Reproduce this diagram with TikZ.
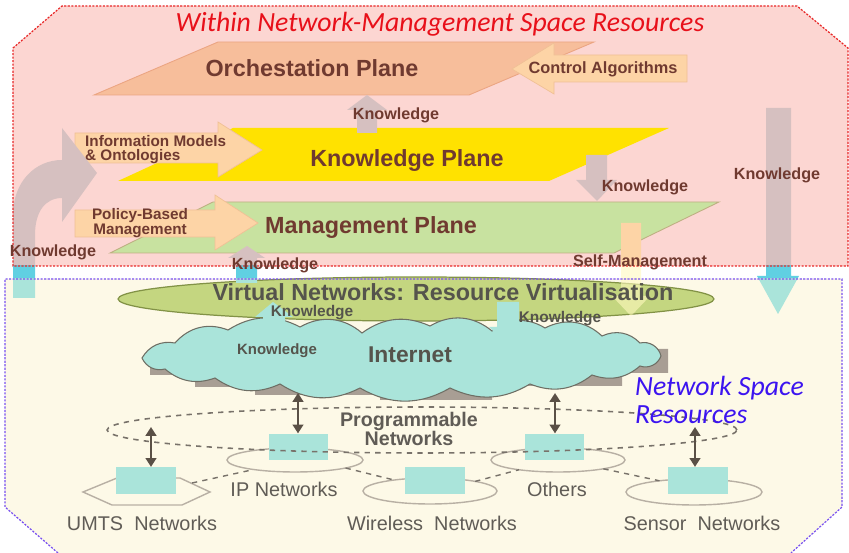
\documentclass[tikz,border=0pt]{standalone}
\usepackage{fontspec}
\setmainfont{Liberation Sans}
\newfontfamily\calibri{Carlito}
\usetikzlibrary{arrows.meta,shapes.geometric}

\definecolor{pinkzone}{RGB}{252,214,210}
\definecolor{creamzone}{RGB}{253,249,231}
\definecolor{redline}{RGB}{232,40,40}
\definecolor{blueline}{RGB}{120,80,240}
\definecolor{orchfill}{RGB}{247,190,155}
\definecolor{orchline}{RGB}{235,165,130}
\definecolor{knowfill}{RGB}{255,226,0}
\definecolor{mgmtfill}{RGB}{200,226,160}
\definecolor{mgmtline}{RGB}{190,175,130}
\definecolor{peach}{RGB}{253,212,166}
\definecolor{peachline}{RGB}{240,192,150}
\definecolor{kgrey}{RGB}{214,192,192}
\definecolor{kcyan}{RGB}{170,228,218}
\definecolor{kbright}{RGB}{96,208,226}
\definecolor{paleyellow}{RGB}{255,250,190}
\definecolor{planetext}{RGB}{112,58,48}
\definecolor{virtfill}{RGB}{196,214,128}
\definecolor{virtline}{RGB}{130,146,70}
\definecolor{cloudline}{RGB}{110,110,100}
\definecolor{shadowgrey}{RGB}{168,158,148}
\definecolor{darkgrey}{RGB}{85,84,76}
\definecolor{netgrey}{RGB}{96,92,86}
\definecolor{ringgrey}{RGB}{184,176,164}
\definecolor{linkgrey}{RGB}{120,114,106}
\definecolor{arrowgrey}{RGB}{90,80,70}
\definecolor{titlered}{RGB}{232,16,26}
\definecolor{spaceblue}{RGB}{60,20,240}

\tikzset{
  planetxt/.style={text=planetext, font=\bfseries\fontsize{13.3}{15}\selectfont},
  knowtxt/.style={text=planetext, font=\bfseries\fontsize{9.2}{10}\selectfont},
  cloudtxt/.style={text=darkgrey, font=\bfseries\fontsize{8.8}{10}\selectfont},
  nettxt/.style={text=netgrey, font=\fontsize{11.3}{13}\selectfont},
  peacharrow/.style={fill=peach, draw=peachline, line width=0.4pt},
  netbox/.style={fill=kcyan, minimum width=1.2cm, minimum height=0.53cm, inner sep=0pt},
  netring/.style={ellipse, draw=ringgrey, line width=0.8pt, inner sep=0pt, outer sep=0pt},
  netlink/.style={draw=linkgrey, dashed, line width=0.8pt},
  dblarrow/.style={{Triangle[length=5pt,width=6pt]}-{Triangle[length=5pt,width=6pt]}, draw=arrowgrey, line width=1.4pt},
  zoneline/.style={dash pattern=on 1.2pt off 0.8pt, line width=0.7pt}
}

\newcommand{\splitarrow}[1]{%
  \begin{scope}\clip (0,0) rectangle (849,266); \fill[kgrey] #1; \end{scope}
  \begin{scope}\clip (0,266) rectangle (849,279); \fill[kbright] #1; \end{scope}
  \begin{scope}\clip (0,279) rectangle (849,553); \fill[kcyan] #1; \end{scope}}

\begin{document}
\begin{tikzpicture}[x=0.02cm, y=-0.02cm]
    \useasboundingbox (0,0) rectangle (849,553);

    \fill[creamzone] (58,553) -- (5,507) -- (5,279) -- (842,279) -- (842,507) -- (791,553) -- cycle;
    \fill[pinkzone] (13,48) -- (62,6) -- (797,6) -- (848,48) -- (848,266) -- (13,266) -- cycle;

    % the three planes
    \filldraw[fill=orchfill, draw=orchline, line width=0.5pt] (94,95) -- (218,42) -- (594,42) -- (469,95) -- cycle;
    \fill[knowfill] (118,181) -- (233,128) -- (669,128) -- (549,181) -- cycle;
    \filldraw[fill=mgmtfill, draw=mgmtline, line width=0.5pt] (110,253) -- (213,202) -- (719,202) -- (614,253) -- cycle;

    \filldraw[peacharrow] (75,133) -- (218,133) -- (218,122) -- (262,150) -- (218,177) -- (218,163) -- (75,163) -- cycle;
    \filldraw[peacharrow] (75,210) -- (215,210) -- (215,195) -- (258,223) -- (215,250) -- (215,237) -- (75,237) -- cycle;
    \filldraw[peacharrow] (687,55) -- (554,55) -- (554,43) -- (512,69) -- (554,94) -- (554,82) -- (687,82) -- cycle;

    \node[ellipse, fill=virtfill, draw=virtline, line width=0.7pt, minimum width=11.92cm, minimum height=0.88cm, inner sep=0pt] (virt) at (416,299) {};

    % knowledge flows
    \fill[kgrey] (357,133) -- (357,110) -- (347,110) -- (367,95) -- (387,110) -- (377,110) -- (377,133) -- cycle;
    \fill[kgrey] (586,155) -- (607,155) -- (607,180) -- (617,180) -- (597,201) -- (576,180) -- (586,180) -- cycle;
    \splitarrow{(13,298) -- (13,215) .. controls (13,182) and (35,160) .. (62,160) -- (62,128) -- (97,173) -- (62,222) -- (62,198) .. controls (45,198) and (35,212) .. (35,235) -- (35,298) -- cycle}
    \splitarrow{(236,283) -- (236,258) -- (228,258) -- (247,246) -- (265,258) -- (257,258) -- (257,283) -- cycle}
    \splitarrow{(766,108) -- (791,108) -- (791,276) -- (799,276) -- (778,314) -- (757,276) -- (766,276) -- cycle}
    \begin{scope}
        \clip (0,0) rectangle (849,266);
        \fill[peach] (621,223) -- (641,223) -- (641,296) -- (650,296) -- (631,316) -- (612,296) -- (621,296) -- cycle;
    \end{scope}
    \begin{scope}
        \clip (0,266) rectangle (849,553);
        \fill[paleyellow, opacity=0.6] (621,223) -- (641,223) -- (641,296) -- (650,296) -- (631,316) -- (612,296) -- (621,296) -- cycle;
    \end{scope}

    % internet cloud
    \fill[shadowgrey] (150,356) -- (150,375) -- (195,375) -- (195,387) -- (255,387) -- (255,395) -- (380,395) -- (380,400) -- (492,400) -- (492,386) -- (622,386) -- (622,373) -- (668,373) -- (668,349) -- (630,349) -- (630,345) -- (190,345) -- (190,356) -- cycle;
    \filldraw[fill=kcyan, draw=cloudline, line width=0.6pt] (142,358) to[bend left=35] (175,343) to[bend left=35] (228,330) to[bend left=30] (300,327) to[bend left=35] (362,333) to[bend left=30] (430,326) to[bend left=35] (492,331) to[bend left=35] (545,328) to[bend left=35] (602,336) to[bend left=35] (640,343) to[bend left=45] (661,356) to[bend left=45] (640,366) to[bend left=30] (592,375) to[bend left=30] (530,384) to[bend left=28] (450,388) to[bend left=30] (360,388) to[bend left=30] (280,384) to[bend left=30] (215,378) to[bend left=30] (165,369) to[bend left=40] (142,358) -- cycle;
    \fill[kcyan] (263,340) -- (263,317) -- (255,317) -- (273,302) -- (293,317) -- (285,317) -- (285,340) -- cycle;
    \fill[kcyan] (497,302) -- (519,302) -- (519,327) -- (529,327) -- (509,347) -- (489,327) -- (497,327) -- cycle;

    % programmable networks
    \draw[ringgrey, line width=0.8pt] (83,492) -- (117,478) -- (180,478) -- (210,492) -- (182,505) -- (112,505) -- cycle;
    \coordinate (umtsedge) at (192,483);
    \node[netring, minimum width=2.72cm, minimum height=0.48cm] (ipring) at (295,460) {};
    \node[netring, minimum width=2.68cm, minimum height=0.52cm] (wlring) at (430,491) {};
    \node[netring, minimum width=2.68cm, minimum height=0.48cm] (othring) at (558,460) {};
    \node[netring, minimum width=2.72cm, minimum height=0.52cm] (snring) at (694,492) {};

    \node[netbox] (umtsbox) at (146,480.5) {};
    \node[netbox] (ipbox) at (298.5,447) {};
    \node[netbox] (wlbox) at (435,480.5) {};
    \node[netbox] (othbox) at (554.5,447) {};
    \node[netbox] (snbox) at (698,480.5) {};

    \node[ellipse, draw=linkgrey, dashed, line width=0.9pt, minimum width=12.6cm, minimum height=0.92cm, inner sep=0pt] (prog) at (422,430) {};

    \draw[netlink] (umtsedge) -- (ipring.193);
    \draw[netlink] (ipring.-9) -- (wlring.163);
    \draw[netlink] (wlring.12) -- (othring.-166);
    \draw[netlink] (othring.-11) -- (snring.162);

    \coordinate (cl-ip) at (298,393);
    \coordinate (cl-oth) at (555,393);
    \coordinate (pr-umts) at (151,427);
    \coordinate (pr-sn) at (695,427);
    \draw[dblarrow] (cl-ip) -- (cl-ip |- ipbox.north);
    \draw[dblarrow] (cl-oth) -- (cl-oth |- othbox.north);
    \draw[dblarrow] (pr-umts) -- (pr-umts |- umtsbox.north);
    \draw[dblarrow] (pr-sn) -- (pr-sn |- snbox.north);

    % zone borders
    \draw[redline, zoneline] (13,48) -- (62,6) -- (797,6) -- (848,48) -- (848,266) -- (13,266) -- cycle;
    \draw[blueline, zoneline] (58,553) -- (5,507) -- (5,279) -- (842,279) -- (842,507) -- (791,553);

    % labels
    \node[text=titlered, font=\calibri\itshape\fontsize{15.8}{18}\selectfont] (title) at (440,24) {Within Network-Management Space Resources};
    \node[text=spaceblue, font=\calibri\itshape\fontsize{15.8}{16}\selectfont, align=left, anchor=west] (nsr) at (629,400) {Network Space\\Resources};

    \node[planetxt] (orchlbl) at (312,68) {Orchestation Plane};
    \node[planetxt] (knowlbl) at (407,161) {Knowledge Plane};
    \node[planetxt] (mgmtlbl) at (371,228) {Management Plane};
    \node[text=planetext, font=\bfseries\fontsize{9.3}{10}\selectfont] (ctrllbl) at (603,69) {Control Algorithms};
    \node[text=planetext, font=\bfseries\fontsize{8.7}{8}\selectfont, align=left, anchor=west] (infolbl) at (79,150) {Information Models\\\& Ontologies};
    \node[text=planetext, font=\bfseries\fontsize{8.7}{7.5}\selectfont, align=center] (polylbl) at (140,223) {Policy-Based\\Management};

    \node[knowtxt] (k-orch) at (396,115) {Knowledge};
    \node[knowtxt] (k-mgmt) at (645,187) {Knowledge};
    \node[knowtxt] (k-side) at (777,175) {Knowledge};
    \node[knowtxt] (k-left) at (53,252) {Knowledge};
    \node[knowtxt] (k-virt) at (275,265) {Knowledge};
    \node[knowtxt] (selfmgmt) at (640,262) {Self-Management};

    \node[text=darkgrey, font=\bfseries\fontsize{13.3}{15}\selectfont] (virtlbl) at (443,292) {Virtual Networks: Resource Virtualisation};
    \node[text=darkgrey, font=\bfseries\fontsize{13}{15}\selectfont] (netlbl) at (410,355) {Internet};
    \node[cloudtxt] (k-up) at (312,313) {Knowledge};
    \node[cloudtxt, font=\bfseries\fontsize{8.5}{10}\selectfont] (k-cloud) at (277,351) {Knowledge};
    \node[cloudtxt] (k-down) at (560,319) {Knowledge};

    \node[text=netgrey, font=\bfseries\fontsize{11.2}{10.8}\selectfont, align=center] (proglbl) at (409,429) {Programmable\\Networks};
    \node[nettxt] (umtslbl) at (142,523) {UMTS~~Networks};
    \node[nettxt] (iplbl) at (284,489) {IP Networks};
    \node[nettxt] (wllbl) at (432,523) {Wireless~~Networks};
    \node[nettxt] (othlbl) at (557,489) {Others};
    \node[nettxt] (snlbl) at (702,523) {Sensor~~Networks};
\end{tikzpicture}
\end{document}
